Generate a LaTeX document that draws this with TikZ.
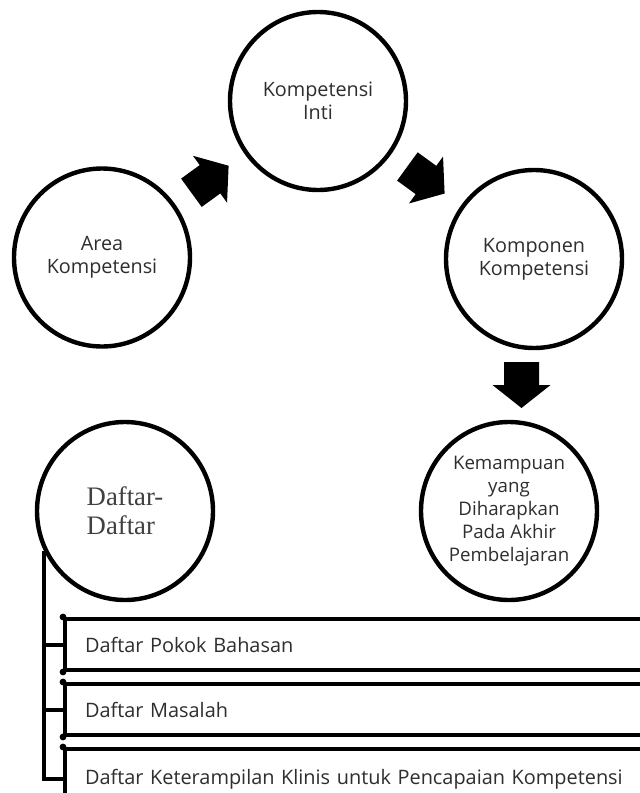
\documentclass[tikz,border=0pt]{standalone}
\usepackage{fontspec}
\setmainfont{Open Sans}
\newfontfamily\timesfont{Liberation Serif}
\usetikzlibrary{shapes.geometric,calc}
\definecolor{txt}{HTML}{2E2E2E}
\definecolor{serif}{HTML}{404040}
\begin{document}
\begin{tikzpicture}[x=1pt,y=-1pt,
  bubble/.style={ellipse,draw=black,line width=4.4pt,minimum width=176pt,minimum height=178pt,inner sep=0pt,align=center,text=txt,font=\fontsize{19.8}{23}\selectfont},
  listbox/.style={rectangle,draw=black,line width=4pt,anchor=north west,minimum height=51pt,text width=560pt,inner xsep=20pt,inner ysep=0pt,align=left,text=txt,font=\fontsize{19.9}{23}\selectfont},
  conn/.style={draw=black,line width=4pt},
  corner/.style={fill=black},
  blockarrow/.pic={\fill[black] (-23,-17.5) -- (0,-17.5) -- (0,-29) -- (23,0) -- (0,29) -- (0,17.5) -- (-23,17.5) -- cycle;}
]
\useasboundingbox (0,0) rectangle (640,793);
\fill[white] (0,0) rectangle (640,793);

\node[bubble] (inti) at (318,101) {Kompetensi\\Inti};
\node[bubble] (area) at (102,257.5) {Area\\Kompetensi};
\node[bubble] (komp) at (534,259) {Komponen\\Kompetensi};
\node[bubble,font=\fontsize{18.7}{23}\selectfont] (kemam) at (509,511) {Kemampuan\\yang\\Diharapkan\\Pada Akhir\\Pembelajaran};
\node[bubble,font=\timesfont\fontsize{26.7}{29}\selectfont,align=left,text=serif] (dfd) at (125,511) {Daftar-\\Daftar};

\pic[rotate=36] at ($(area)!0.5!(inti)$) {blockarrow};
\pic[rotate=-36] at ($(inti)!0.5!(komp)$) {blockarrow};
\pic[rotate=-90] at ($(komp)!0.5!(kemam)$) {blockarrow};

\node[listbox] (b1) at (63,617) {Daftar Pokok Bahasan};
\node[listbox] (b2) at (63,682) {Daftar Masalah};
\node[listbox,minimum height=60pt] (b3) at (63,747) {Daftar Keterampilan Klinis untuk Pencapaian Kompetensi};

\foreach \b in {b1,b2,b3}{
  \fill[corner] (\b.north west) circle (3.4pt);
  \fill[corner] (\b.south west) circle (3.4pt);
}

\coordinate (trunk) at (dfd.206);
\draw[conn] (trunk) |- (b3.west);
\draw[conn] (trunk |- b1.west) -- (b1.west);
\draw[conn] (trunk |- b2.west) -- (b2.west);
\end{tikzpicture}
\end{document}
